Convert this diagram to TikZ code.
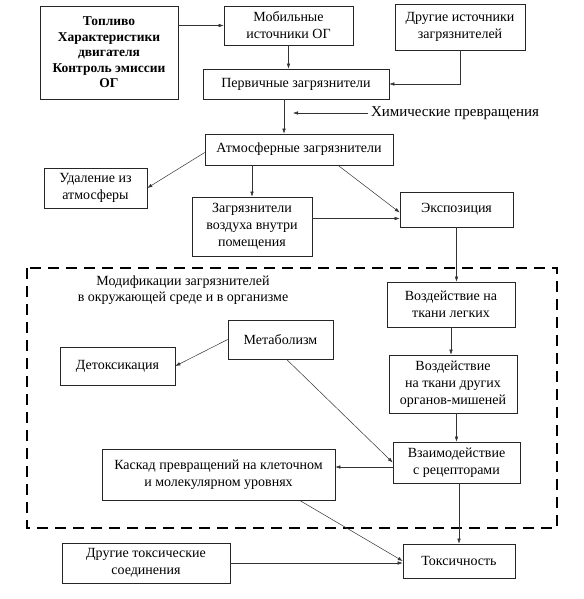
\documentclass[tikz,border=0pt]{standalone}
\usepackage{fontspec}
\setmainfont{Liberation Serif}
\usetikzlibrary{arrows.meta,positioning}

\tikzset{
  blok/.style={draw=black!85,line width=.6pt,align=center,inner sep=2pt,
    font=\rmfamily\fontsize{14}{17}\selectfont},
  arr/.style={-{Latex[length=5pt,width=3.5pt]},line width=.5pt,black!80},
  zona/.style={draw=black,line width=1.1pt,dash pattern=on 11pt off 7pt}
}

\begin{document}
\begin{tikzpicture}[x=1pt,y=-1pt]
\useasboundingbox (0,0) rectangle (583,599);

% Источники
\node[blok,minimum width=138,minimum height=93,font=\fontsize{13.5}{15.5}\selectfont\bfseries] (topl) at (109,52.5)
  {Топливо\\Характеристики\\двигателя\\Контроль эмиссии\\ОГ};
\node[blok,minimum width=129,minimum height=39] (mob) at (288.5,25.5) {Мобильные\\источники ОГ};
\node[blok,minimum width=130,minimum height=46] (drug) at (460,27) {Другие источники\\загрязнителей};
\node[blok,minimum width=186,minimum height=30] (perv) at (296,84) {Первичные загрязнители};
\node[font=\rmfamily\fontsize{15}{17}\selectfont] (chem) at (455,113) {Химические превращения};
\coordinate (khim) at (293,113);
\coordinate (os) at (284,0);

% Атмосфера
\node[blok,minimum width=188,minimum height=31] (atm) at (299,149.5) {Атмосферные загрязнители};
\node[blok,minimum width=103,minimum height=40] (udal) at (95.5,188) {Удаление из\\атмосферы};
\node[blok,minimum width=120,minimum height=59] (vnutr) at (252,226.5) {Загрязнители\\воздуха внутри\\помещения};
\node[blok,minimum width=113,minimum height=35] (ekspo) at (456.5,209.5) {Экспозиция};

% Модификации
\draw[zona] (27,268) rectangle (557,528);
\node[align=center,font=\rmfamily\fontsize{14}{15.5}\selectfont] (modif) at (183,290)
  {Модификации загрязнителей\\в окружающей среде и в организме};
\node[blok,minimum width=128,minimum height=45] (legk) at (451,304.5) {Воздействие на\\ткани легких};
\node[blok,minimum width=128,minimum height=58] (organ) at (453,384) {Воздействие\\на ткани других\\органов-мишеней};
\node[blok,minimum width=127,minimum height=41] (vzaim) at (456.5,462.5) {Взаимодействие\\с рецепторами};
\node[blok,minimum width=105,minimum height=39] (metab) at (280.5,339.5) {Метаболизм};
\node[blok,minimum width=115,minimum height=38] (detox) at (117.5,366) {Детоксикация};
\node[blok,minimum width=233,minimum height=51] (kaskad) at (218.5,474.5) {Каскад превращений на клеточном\\и молекулярном уровнях};

% Токсичность
\node[blok,minimum width=112,minimum height=34] (toks) at (459,561) {Токсичность};
\node[blok,minimum width=168,minimum height=40] (drtoks) at (146,563) {Другие токсические\\соединения};

% Связи
\draw[arr] (topl.east |- mob.west) -- (mob.west);
\draw[arr] (mob.south) -- (perv.north -| mob.south);
\draw[arr] (drug.south) |- (perv.east);
\draw[arr] (perv.south -| os) -- (atm.north -| os);
\draw[arr] (chem.west) -- (khim);
\draw[arr] ([yshift=-3pt]atm.west) -- (udal.east);
\draw[arr] (vnutr.north |- atm.south) -- (vnutr.north);
\draw[arr] ([xshift=39pt]atm.south) -- ([yshift=-3pt]ekspo.west);
\draw[arr] ([yshift=-9pt]ekspo.west -| vnutr.east) -- ([yshift=-9pt]ekspo.west);
\draw[arr] (ekspo.south) -- (ekspo.south |- legk.north);
\draw[arr] (legk.south) -- (legk.south |- organ.north);
\draw[arr] (vzaim.north |- organ.south) -- (vzaim.north);
\draw[arr] (metab.west) -- (detox.east);
\draw[arr] ([xshift=6pt]metab.south) -- (vzaim.west);
\draw[arr] ([yshift=-4.5pt]vzaim.west) -- ([yshift=-4.5pt]vzaim.west -| kaskad.east);
\draw[arr] ([xshift=81pt]kaskad.south) -- (toks.west);
\draw[arr] (toks.north |- vzaim.south) -- (toks.north);
\draw[arr] (drtoks.east) -- (drtoks.east -| toks.west);
\end{tikzpicture}
\end{document}
